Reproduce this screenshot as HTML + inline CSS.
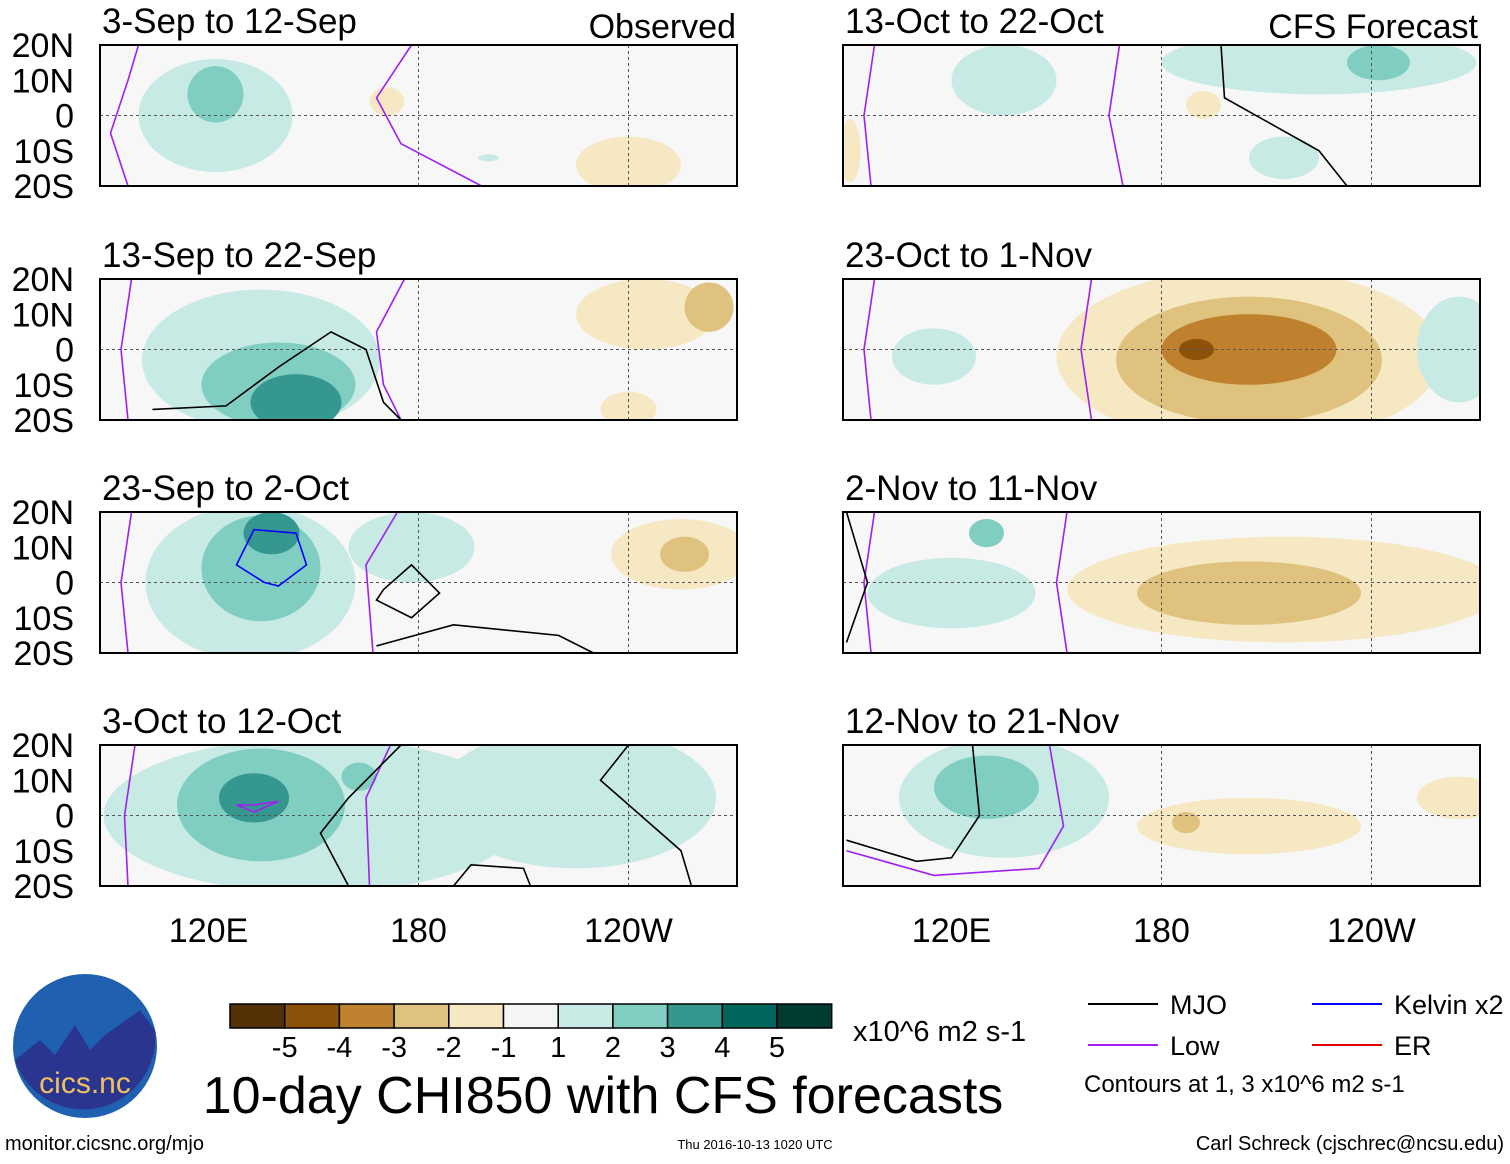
<!DOCTYPE html>
<html><head><meta charset="utf-8"><style>
body{margin:0;background:#fff;width:1510px;height:1159px;overflow:hidden;font-family:"Liberation Sans",sans-serif}
svg text{font-family:"Liberation Sans",sans-serif}
</style></head><body>
<svg id="chart" width="1510" height="1159" xmlns="http://www.w3.org/2000/svg"></svg>
<script>
const NS="http://www.w3.org/2000/svg";
const svg=document.getElementById('chart');
const panelTitles=["3-Sep to 12-Sep","13-Sep to 22-Sep","23-Sep to 2-Oct","3-Oct to 12-Oct","13-Oct to 22-Oct","23-Oct to 1-Nov","2-Nov to 11-Nov","12-Nov to 21-Nov"];
const levelColors={"-5":"#543005","-4":"#8c510a","-3":"#bf812d","-2":"#dfc27d","-1":"#f6e8c3","1":"#c7eae5","2":"#80cdc1","3":"#35978f","4":"#01665e","5":"#003c30"};
const cbLevels=[-5,-4,-3,-2,-1,0,1,2,3,4,5];
const cbLabels=["-5","-4","-3","-2","-1","1","2","3","4","5"];
const latTicks=["20N","10N","0","10S","20S"];
const lonTicks=[[120,"120E"],[180,"180"],[240,"120W"]];
// blobs per panel: [lon, lat, rLon, rLat, level]
const panelBlobs=[
 [[122,0,22,16,1],[122,6,8,8,2],[171,4,5,4,-1],[240,-14,15,8,-1],[200,-12,3,1,1]],
 [[135,-3,34,20,1],[140,-10,22,12,2],[145,-15,13,8,3],[245,10,20,10,-1],[263,12,7,7,-2],[240,-17,8,5,-1]],
 [[132,0,30,22,1],[135,4,17,15,2],[138,14,8,6,3],[178,10,18,10,1],[255,8,20,10,-1],[256,8,7,5,-2]],
 [[150,0,60,22,1],[135,3,24,16,2],[133,5,10,7,3],[225,5,40,20,1],[163,11,5,4,2]],
 [[225,15,45,9,1],[242,15,9,5,2],[135,10,15,10,1],[192,3,5,4,-1],[91,-10,3,9,-1],[215,-12,10,6,1]],
 [[205,-2,55,25,-1],[205,-3,38,18,-2],[205,0,25,10,-3],[190,0,5,3,-4],[115,-2,12,8,1],[265,0,12,15,1]],
 [[120,-3,24,10,1],[130,14,5,4,2],[215,-2,62,15,-1],[205,-3,32,9,-2]],
 [[135,5,30,17,1],[130,8,15,9,2],[205,-3,32,8,-1],[187,-2,4,3,-2],[265,5,12,6,-1]]
];
// contour lines: [type, [[lon,lat],...]]
const panelLines=[
 [["low",[[97,-20],[92,-5],[97,10],[100,20]]],["low",[[178,20],[168,5],[175,-8],[198,-20]]]],
 [["low",[[97,-20],[95,0],[98,20]]],["low",[[176,20],[168,5],[170,-10],[175,-20]]],["mjo",[[104,-17],[125,-16],[140,-5],[155,5],[165,0],[170,-15],[175,-20]]]],
 [["low",[[97,-20],[95,0],[98,20]]],["low",[[174,20],[165,5],[167,-20]]],["mjo",[[170,-2],[178,5],[186,-3],[178,-10],[168,-5],[170,-2]]],["mjo",[[168,-18],[190,-12],[220,-15],[230,-20]]],["kelvin",[[136,0],[128,5],[133,15],[145,14],[148,5],[140,-1],[136,0]]]],
 [["low",[[97,-20],[96,0],[99,20]]],["low",[[172,20],[165,5],[166,-20]]],["mjo",[[175,20],[160,5],[152,-5],[160,-20]]],["mjo",[[240,20],[232,10],[255,-10],[258,-20]]],["mjo",[[190,-20],[195,-14],[210,-15],[212,-20]]],["low",[[133,3],[140,4],[133,1],[128,3],[133,3]]]],
 [["low",[[97,-20],[95,0],[98,20]]],["low",[[168,20],[165,0],[169,-20]]],["mjo",[[197,20],[198,5],[225,-10],[233,-20]]]],
 [["low",[[97,-20],[95,0],[98,20]]],["low",[[160,20],[157,0],[160,-20]]]],
 [["low",[[97,-20],[95,0],[98,20]]],["low",[[153,20],[150,0],[153,-20]]],["mjo",[[90,-17],[96,0],[90,20]]]],
 [["low",[[90,-10],[115,-17],[145,-15],[152,-3],[148,20]]],["mjo",[[90,-7],[110,-13],[120,-12],[128,0],[126,20]]]]
];
const lineColors={mjo:"#000",low:"#a020f0",kelvin:"#0000ff"};
const L0=[100,843], PW=637, ROWY=[45,279,512,745], PH=141;
function lonX(p,lon){return L0[p<4?0:1]+(lon-89)*3.5;}
function latY(p,lat){return ROWY[p%4]+(20-lat)*PH/40;}
function el(tag,attrs,parent){const e=document.createElementNS(NS,tag);for(const k in attrs)e.setAttribute(k,attrs[k]);(parent||svg).appendChild(e);return e;}
const defs=el('defs',{});
for(let p=0;p<8;p++){
 const x0=L0[p<4?0:1], y0=ROWY[p%4];
 const cp=el('clipPath',{id:'c'+p},defs);el('rect',{x:x0,y:y0,width:PW,height:PH},cp);
 const g=el('g',{'clip-path':'url(#c'+p+')'});
 
 
 el('rect',{x:x0,y:y0,width:PW,height:PH,fill:'#f7f7f7'},g);
 const blobs=panelBlobs[p].slice().sort((a,b)=>Math.abs(a[4])-Math.abs(b[4]));
 blobs.forEach(b=>{const e=el('ellipse',{cx:lonX(p,b[0]),cy:latY(p,b[1]),rx:b[2]*3.5,ry:b[3]*PH/40,fill:levelColors[b[4]]},g);
  
  });
 el('line',{x1:x0,x2:x0+PW,y1:latY(p,0),y2:latY(p,0),stroke:'#555','stroke-dasharray':'3,3','stroke-width':1},g);
 [180,240].forEach(l=>el('line',{x1:lonX(p,l),x2:lonX(p,l),y1:y0,y2:y0+PH,stroke:'#555','stroke-dasharray':'3,3'},g));
 panelLines[p].forEach(ln=>{const pts=ln[1].map(q=>lonX(p,q[0])+','+latY(p,q[1])).join(' ');
  const e=el('polyline',{points:pts,fill:'none',stroke:lineColors[ln[0]],'stroke-width':1.6},g);
  
  });
 el('rect',{x:x0,y:y0,width:PW,height:PH,fill:'none',stroke:'#000','stroke-width':2});
 const t=el('text',{x:x0+2,y:y0-12,'font-size':35});t.textContent=panelTitles[p];
 
 
 if(p<4){latTicks.forEach((s,i)=>{const tt=el('text',{x:74,y:y0+i*PH/4+12,'font-size':34,'text-anchor':'end'});tt.textContent=s;
  
  });}
 if(p%4==3){lonTicks.forEach(lt=>{const tt=el('text',{x:lonX(p,lt[0]),y:942,'font-size':34,'text-anchor':'middle'});tt.textContent=lt[1];
  
  });}
}
function txt(x,y,s,size,anchor,name){const t=el('text',{x:x,y:y,'font-size':size,'text-anchor':anchor||'start'});t.textContent=s;return t;}
txt(736,38,"Observed",34,"end","observed-label");
txt(1478,38,"CFS Forecast",34,"end","forecast-label");
// colorbar
const cbW=54.7;
cbLevels.forEach((lv,i)=>{const r=el('rect',{x:230+i*cbW,y:1004,width:cbW,height:24,fill:lv==0?'#f5f5f5':levelColors[lv],stroke:'#000','stroke-width':1.5});
 
 });
cbLabels.forEach((s,i)=>txt(230+(i+1)*cbW,1057,s,29,"middle","colorbar-label"));
txt(853,1041,"x10^6 m2 s-1",29,"start","colorbar-units");
txt(603,1113,"10-day CHI850 with CFS forecasts",52,"middle","main-title");
txt(5,1150,"monitor.cicsnc.org/mjo",20,"start","url-label");
txt(755,1149,"Thu 2016-10-13 1020 UTC",13,"middle","timestamp");
txt(1504,1150,"Carl Schreck (cjschrec@ncsu.edu)",20,"end","author-label");
// legend
const leg=[["MJO","#000",1088,1004],["Kelvin x2","#0000ff",1312,1004],["Low","#a020f0",1088,1045],["ER","#e00000",1312,1045]];
leg.forEach(l=>{const ln=el('line',{x1:l[2],x2:l[2]+70,y1:l[3],y2:l[3],stroke:l[1],'stroke-width':2});
 
 
 txt(l[2]+82,l[3]+10,l[0],27,"start","legend-entry");});
txt(1084,1092,"Contours at 1, 3 x10^6 m2 s-1",24,"start","contour-note");
// logo
const lg=el('g',{});
el('circle',{cx:85,cy:1046,r:72,fill:'#2060b0'},lg);
el('path',{d:'M15,1060 L40,1040 L55,1055 L75,1025 L90,1050 L105,1035 L140,1010 L155,1030 A72,72 0 0 1 15,1060 Z',fill:'#2a3590'},lg);
const lt=el('text',{x:85,y:1093,'font-size':30,'text-anchor':'middle',fill:'#f0c060'},lg);lt.textContent="cics.nc";
</script>
</body></html>
